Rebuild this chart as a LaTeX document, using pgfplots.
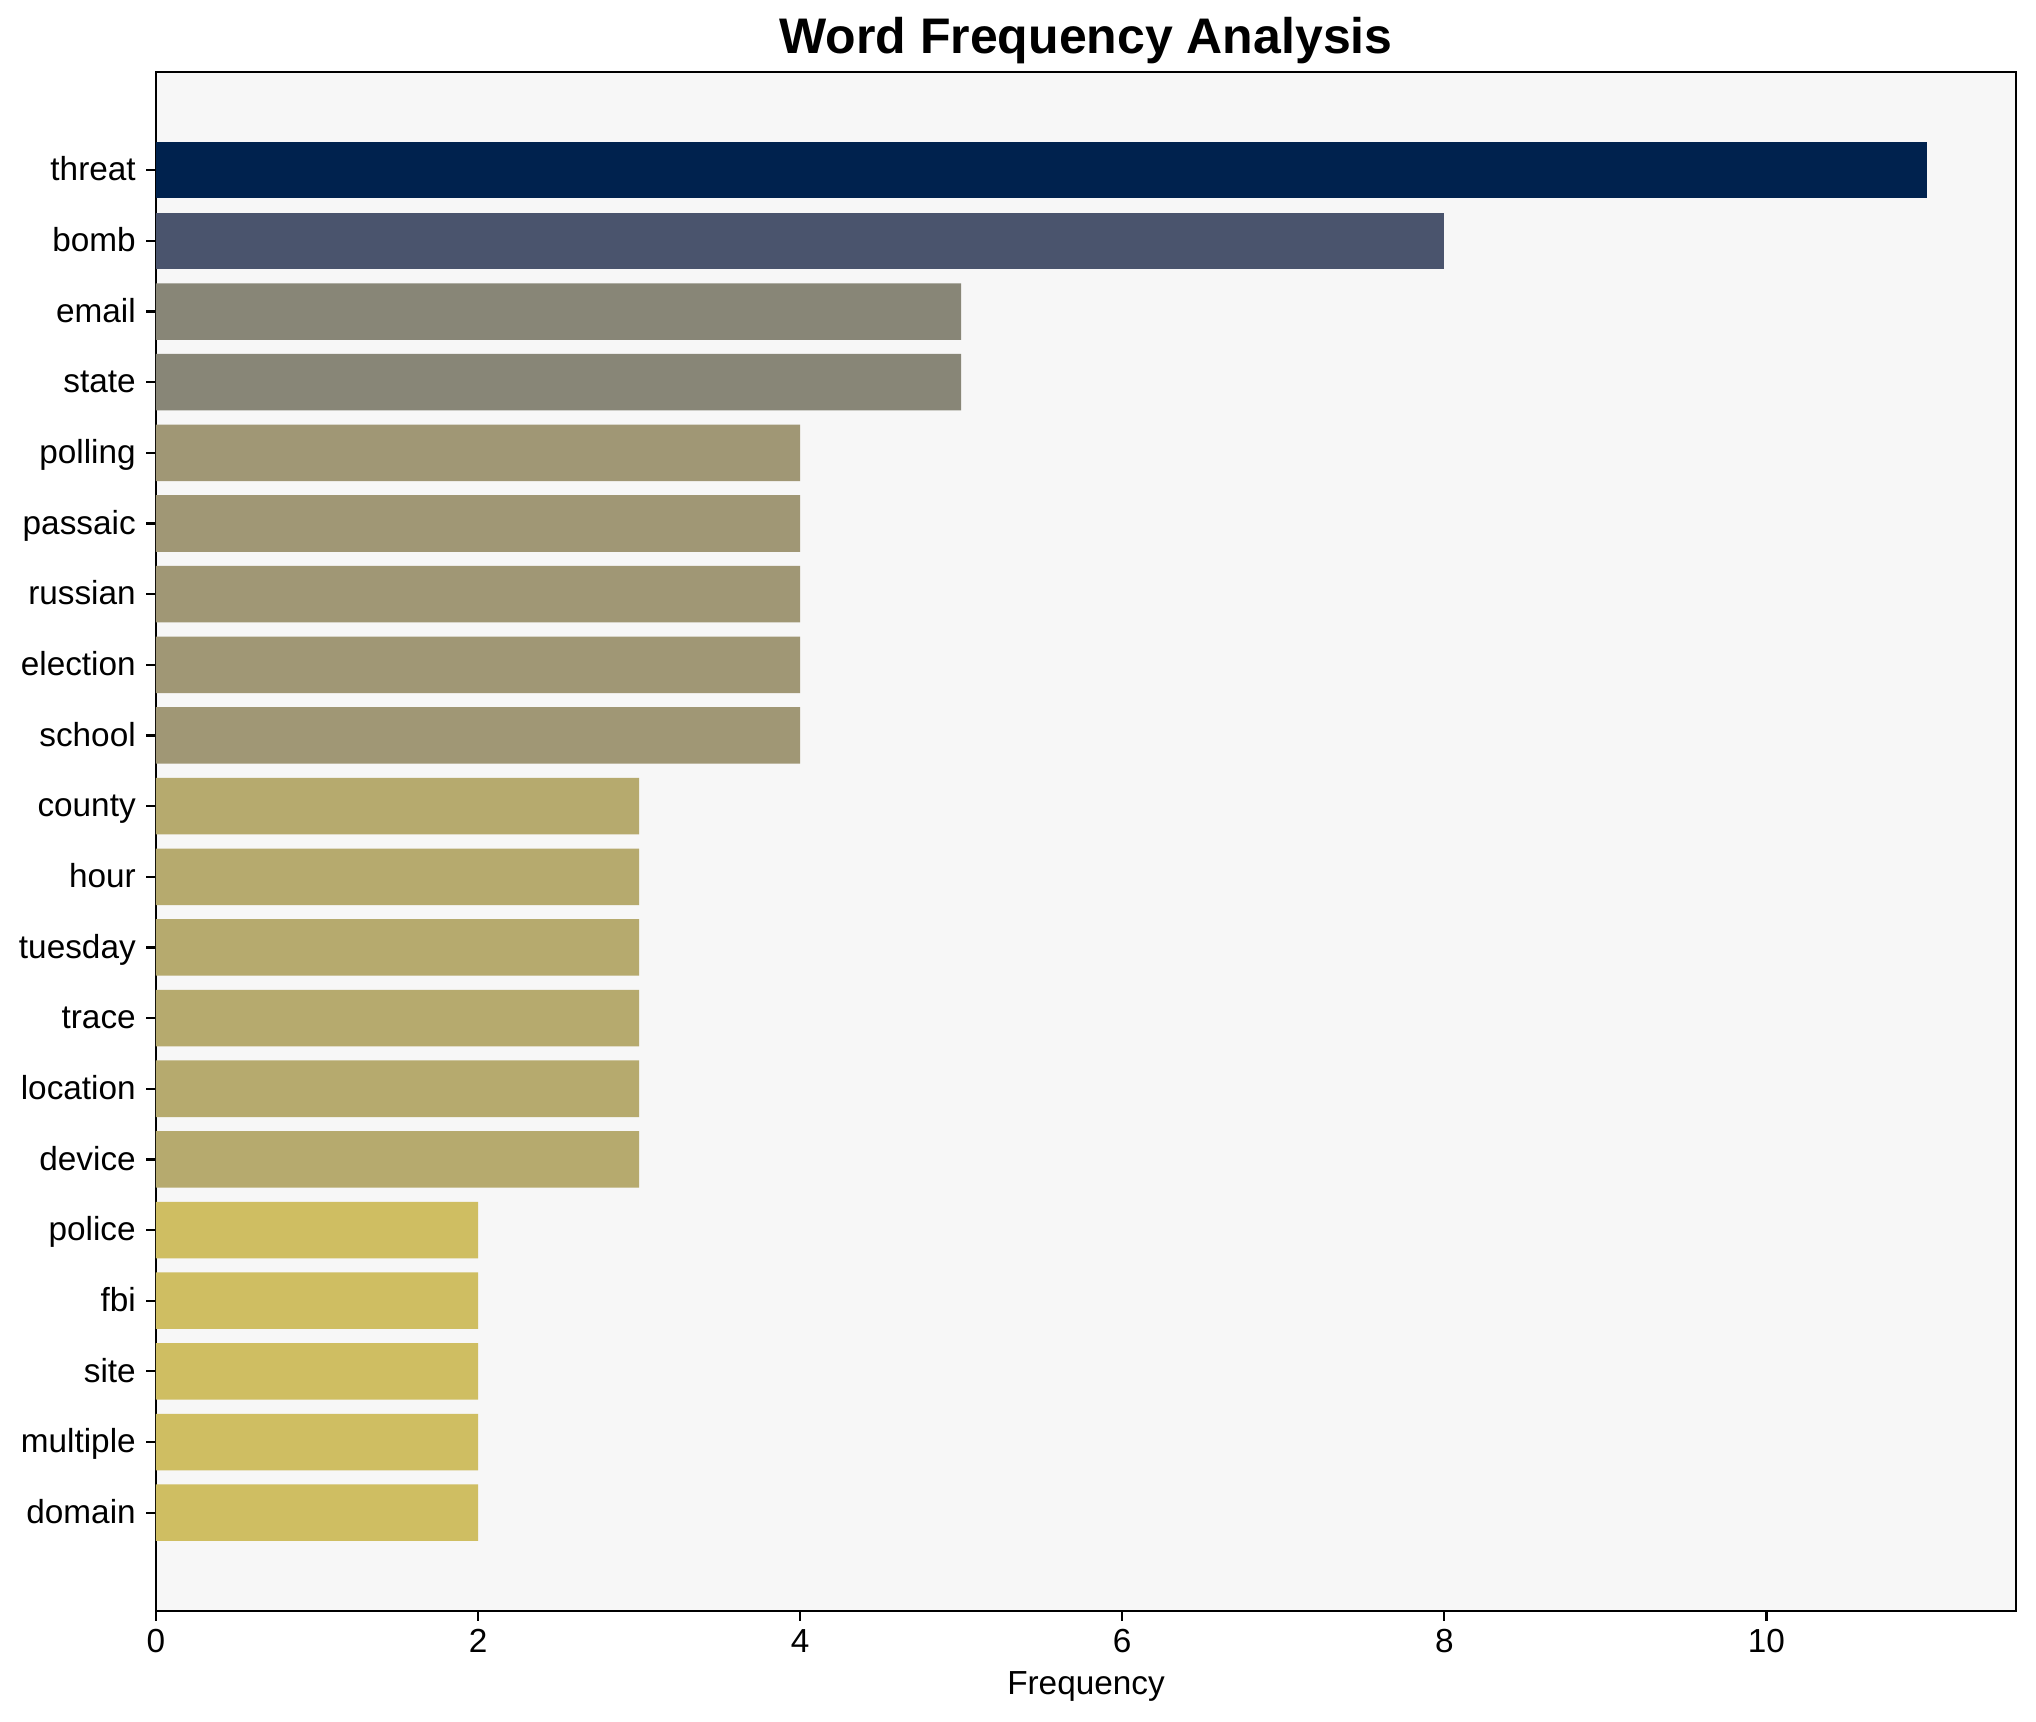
\documentclass[border=0pt]{standalone}
\usepackage{fontspec}
\setmainfont{Liberation Sans}
\usepackage{pgfplots}
\pgfplotsset{compat=1.18}
\usetikzlibrary{calc}
\definecolor{bgcol}{HTML}{F7F7F7}
\definecolor{c11}{HTML}{00224E}
\definecolor{c8}{HTML}{4A546D}
\definecolor{c5}{HTML}{888677}
\definecolor{c4}{HTML}{A09775}
\definecolor{c3}{HTML}{B6AA6E}
\definecolor{c2}{HTML}{CFBE62}
\begin{document}
\begin{tikzpicture}
\begin{axis}[
  scale only axis,
  width=669.6pt, height=554pt,
  xmin=0, xmax=11.55,
  ymin=-1.39, ymax=20.39,
  y dir=reverse,
  xbar, bar width=0.8,
  axis background/.style={fill=bgcol},
  axis line style={black, line width=0.8pt},
  tick style={black, line width=0.8pt},
  tick align=outside,
  major tick length=3.5pt,
  xtick={0,2,4,6,8,10},
  ytick={0,...,19},
  yticklabels={threat,bomb,email,state,polling,passaic,russian,election,school,county,hour,tuesday,trace,location,device,police,fbi,site,multiple,domain},
  xtick pos=bottom, ytick pos=left,
  /pgf/number format/assume math mode=true,
  ticklabel style={font=\fontsize{12}{14}\selectfont},
  xticklabel style={anchor=base, inner sep=0pt, yshift=-11.5pt},
  yticklabel style={anchor=mid east, inner sep=0pt, xshift=-3.6pt, yshift=-1.2pt},
  xlabel={Frequency},
  xlabel style={font=\fontsize{12}{14}\selectfont, at={(axis description cs:0.5,0)}, anchor=base, inner sep=0pt, yshift=-30.2pt},
  title={Word Frequency Analysis},
  every axis title shift=0pt,
  title style={font=\bfseries\fontsize{18}{22}\selectfont, at={(axis description cs:0.5,1)}, anchor=base, inner sep=0pt, yshift=6.5pt},
]
\addplot[fill=c11, draw=none, bar shift=0pt] coordinates {(11,0)};
\addplot[fill=c8, draw=none, bar shift=0pt] coordinates {(8,1)};
\addplot[fill=c5, draw=none, bar shift=0pt] coordinates {(5,2) (5,3)};
\addplot[fill=c4, draw=none, bar shift=0pt] coordinates {(4,4) (4,5) (4,6) (4,7) (4,8)};
\addplot[fill=c3, draw=none, bar shift=0pt] coordinates {(3,9) (3,10) (3,11) (3,12) (3,13) (3,14)};
\addplot[fill=c2, draw=none, bar shift=0pt] coordinates {(2,15) (2,16) (2,17) (2,18) (2,19)};
\end{axis}
\pgfresetboundingbox
\path ($(current axis.south west)+(-56.16pt,-39.96pt)$) rectangle ($(current axis.north east)+(7.2pt,25.92pt)$);
\end{tikzpicture}
\end{document}
